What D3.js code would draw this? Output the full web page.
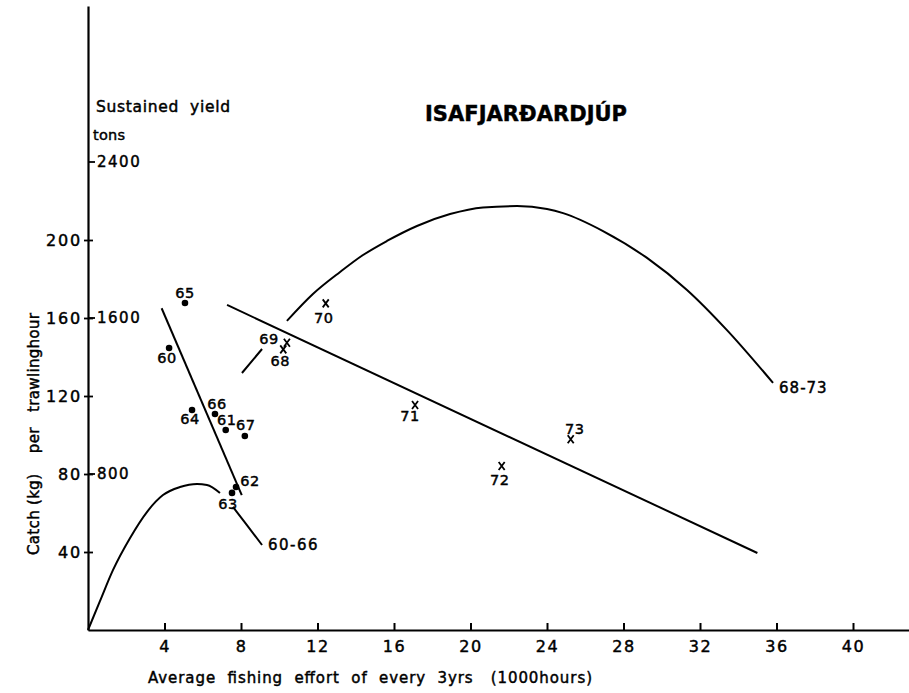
<!DOCTYPE html>
<html lang="en">
<head>
    <meta charset="UTF-8">
    <script src="https://d3js.org/d3.v7.min.js"></script>
    <title>Isafjardardjup</title>
    <style>
        body { margin: 0; background: #fff; }
        text { font-family: "DejaVu Sans", sans-serif; fill: #000; stroke: #000; stroke-width: 0.45px; }
    </style>
</head>
<body>
    <div id="chart"></div>
    <script>
        // points 1960-66 (dots) and 1968-73 (crosses)
        const dotYears = ["65", "60", "64", "66", "61", "67", "62", "63"];
        const dotEffort = [5.07, 4.24, 5.44, 6.64, 7.2, 8.2, 7.74, 7.53];
        const dotCatch = [167.7, 144.6, 112.8, 110.8, 102.6, 99.5, 73.3, 70.3];

        const crossYears = ["68", "69", "70", "71", "72", "73"];
        const crossEffort = [10.21, 10.4, 12.43, 17.1, 21.63, 25.24];
        const crossCatch = [143.9, 147.3, 167.5, 115.4, 84.1, 97.8];

        // fitted catch per effort lines
        const fit6066Effort = [3.85, 8.04];
        const fit6066Catch = [165.0, 69.2];
        const fit6873Effort = [7.27, 35.0];
        const fit6873Catch = [166.7, 39.5];

        // sustained yield curves (tons), null = break in the line
        const yield6066Effort = [0, 0.63, 1.31, 2.2, 3.08, 3.92, 4.81, 5.7, 6.22, 6.9, 7.2, 7.58, 8.31, 9.1];
        const yield6066Tons = [0, 149, 308, 472, 605, 692, 733, 749, 744, 703, null, 631, 538, 436];
        const yield6873Effort = [8.05, 9.1, 9.7, 10.4, 11.76, 13.18, 14.38, 15.63, 17.2, 18.93, 20.65, 22.43, 24.0, 24.84, 26.93, 29.23, 31.32, 33.41, 35.82];
        const yield6873Tons = [1318, 1441, null, 1585, 1723, 1836, 1923, 1995, 2072, 2133, 2167, 2174, 2159, 2138, 2046, 1908, 1744, 1538, 1267];

        // tick labels
        const xTicks = [4, 8, 12, 16, 20, 24, 28, 32, 36, 40];
        const yTicks = [40, 80, 120, 160, 200];
        const tonsTicks = [800, 1600, 2400];

        var width = 909, height = 693;
        var svg = d3.select("#chart").append("svg")
            .attr("width", width)
            .attr("height", height);

        var x = d3.scaleLinear().domain([0, 43]).range([88, 88 + 43 * 19.125]);
        var y = d3.scaleLinear().domain([0, 320]).range([630, 6]);
        var yT = d3.scaleLinear().domain([0, 2400]).range([y(0), y(240)]);

        // x axis
        var gx = svg.append("g")
            .attr("transform", "translate(0," + y(0) + ")")
            .call(d3.axisBottom(x).tickValues(xTicks).tickSizeInner(-7).tickSizeOuter(0).tickPadding(11));
        gx.select(".domain").attr("stroke-width", 2.2);
        gx.selectAll(".tick line").attr("stroke-width", 2);
        gx.selectAll(".tick text").style("font-size", "16px").attr("letter-spacing", "1.5px");

        // y axis (catch)
        var gy = svg.append("g")
            .attr("transform", "translate(" + x(0) + ",0)")
            .call(d3.axisLeft(y).tickValues(yTicks).tickSizeInner(-5).tickSizeOuter(0).tickPadding(6));
        gy.select(".domain").attr("stroke-width", 2.2);
        gy.selectAll(".tick line").attr("stroke-width", 1.8).attr("x1", -4);
        gy.selectAll(".tick text").style("font-size", "16px").attr("letter-spacing", "1.8px");
        gx.attr("font-family", null);
        gy.attr("font-family", null);

        // sustained yield labels on the inside of the axis
        svg.selectAll(".tons-tick")
            .data(tonsTicks)
            .enter().append("line")
            .attr("x1", x(0)).attr("x2", x(0) + 7)
            .attr("y1", d => yT(d)).attr("y2", d => yT(d))
            .attr("stroke", "#000").attr("stroke-width", 1.8);
        svg.selectAll(".tons-label")
            .data(tonsTicks)
            .enter().append("text")
            .attr("x", x(0) + 9)
            .attr("y", d => yT(d))
            .attr("dy", "0.36em")
            .attr("letter-spacing", "1.5px")
            .style("font-size", "15px")
            .text(d => d);

        svg.append("text").attr("x", 96).attr("y", 112)
            .style("font-size", "15.5px").attr("textLength", 134).attr("lengthAdjust", "spacing")
            .style("white-space", "pre")
            .text("Sustained  yield");
        svg.append("text").attr("x", 93).attr("y", 140)
            .style("font-size", "14.5px").attr("textLength", 32).attr("lengthAdjust", "spacing")
            .text("tons");

        // title
        svg.append("text").attr("x", 425).attr("y", 121)
            .style("font-size", "21px").style("font-weight", "bold")
            .attr("textLength", 202).attr("lengthAdjust", "spacing")
            .text("ISAFJARÐARDJÚP");

        // axis titles
        svg.append("text").attr("x", 148).attr("y", 683)
            .style("font-size", "15px").attr("textLength", 444).attr("lengthAdjust", "spacing")
            .style("white-space", "pre")
            .text("Average  fishing  effort  of  every  3yrs   (1000hours)");
        svg.append("text")
            .attr("transform", "translate(38.5,555) rotate(-90)")
            .style("font-size", "15px").attr("textLength", 242).attr("lengthAdjust", "spacing")
            .style("white-space", "pre")
            .text("Catch (kg)    per   trawlinghour");

        // lines
        var fitLine = d3.line().x(d => x(d[0])).y(d => y(d[1]));
        [[fit6066Effort, fit6066Catch], [fit6873Effort, fit6873Catch]].forEach(f => {
            svg.append("path")
                .datum(d3.zip(f[0], f[1]))
                .attr("d", fitLine)
                .attr("fill", "none").attr("stroke", "#000").attr("stroke-width", 2);
        });

        var yieldLine = d3.line()
            .defined(d => d[1] != null)
            .x(d => x(d[0])).y(d => yT(d[1]))
            .curve(d3.curveMonotoneX);
        [[yield6066Effort, yield6066Tons], [yield6873Effort, yield6873Tons]].forEach(c => {
            svg.append("path")
                .datum(d3.zip(c[0], c[1]))
                .attr("d", yieldLine)
                .attr("fill", "none").attr("stroke", "#000").attr("stroke-width", 2);
        });

        svg.append("text").attr("x", x(9.1) + 6).attr("y", yT(436) + 5)
            .style("font-size", "15px").attr("letter-spacing", "1.5px").text("60-66");
        svg.append("text").attr("x", x(35.82) + 6).attr("y", yT(1267) + 10)
            .style("font-size", "15px").attr("letter-spacing", "1px").text("68-73");

        // dots
        var dotOff = { "65": [0, -10], "60": [-2, 10], "64": [-2, 9], "66": [2, -10], "61": [1, -10],
            "67": [1, -11], "62": [14, -6], "63": [-4, 11] };
        dotYears.forEach((yr, i) => {
            var cx = x(dotEffort[i]), cy = y(dotCatch[i]);
            svg.append("circle").attr("cx", cx).attr("cy", cy).attr("r", 3.3).attr("fill", "#000");
            svg.append("text").attr("x", cx + dotOff[yr][0]).attr("y", cy + dotOff[yr][1])
                .attr("text-anchor", "middle").attr("dy", "0.36em")
                .attr("letter-spacing", "0.5px")
                .style("font-size", "14.5px").text(yr);
        });

        // crosses
        var crossOff = { "68": [-3, 11], "69": [-18, -4], "70": [-2, 14], "71": [-5, 11],
            "72": [-2, 14], "73": [4, -11] };
        crossYears.forEach((yr, i) => {
            var cx = x(crossEffort[i]), cy = y(crossCatch[i]);
            svg.append("path")
                .attr("d", `M${cx - 3},${cy - 4}L${cx + 3},${cy + 4}M${cx + 3},${cy - 4}L${cx - 3},${cy + 4}`)
                .attr("stroke", "#000").attr("stroke-width", 1.8);
            svg.append("text").attr("x", cx + crossOff[yr][0]).attr("y", cy + crossOff[yr][1])
                .attr("text-anchor", "middle").attr("dy", "0.36em")
                .attr("letter-spacing", "0.5px")
                .style("font-size", "14.5px").text(yr);
        });
    </script>
</body>
</html>
